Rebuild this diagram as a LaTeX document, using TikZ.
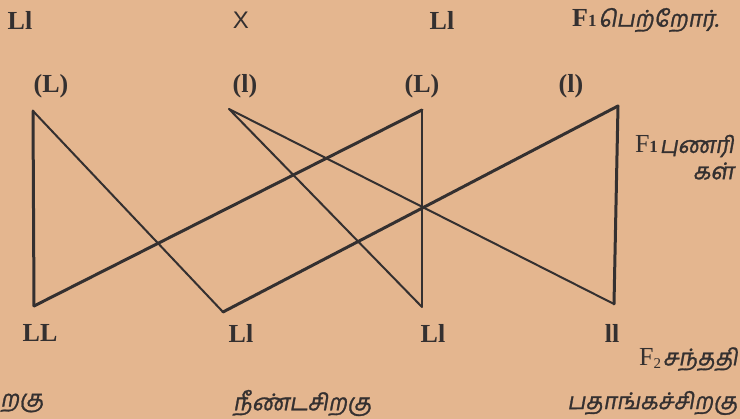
\documentclass[tikz,border=0pt]{standalone}
\usepackage{fontspec}
\setmainfont{Liberation Serif}
\newfontfamily\tamilfont[Script=Tamil,FakeSlant=0.18,FakeBold=1.2]{Hind Madurai}
\newfontfamily\crossfont{Liberation Sans}
\definecolor{paper}{RGB}{228,182,143}
\definecolor{ink}{RGB}{52,48,48}
\tikzset{
  lab/.style={font=\fontsize{26}{28}\selectfont\bfseries, text=ink, inner sep=0pt},
  tam/.style={font=\tamilfont\fontsize{23}{25}\selectfont, text=ink, inner sep=0pt},
  thickline/.style={draw=ink, line width=3pt, line cap=round, line join=round},
  thinline/.style={draw=ink, line width=2pt, line cap=round, line join=round},
}
\begin{document}
\begin{tikzpicture}[x=1pt,y=-1pt]
\fill[paper] (0,0) rectangle (740,419);
\useasboundingbox (0,0) rectangle (740,419);
% top row
\node[lab] (p1) at (20,20) {Ll};
\node[font=\crossfont\fontsize{24}{26}\selectfont, text=ink, inner sep=0pt] (cross) at (241,20) {X};
\node[lab] (p2) at (442,20) {Ll};
\node[anchor=west, inner sep=0pt, text=ink] (f1p) at (572,20) {{\fontsize{26}{28}\selectfont\bfseries F}{\fontsize{17}{19}\selectfont\bfseries 1}\,{\tamilfont\fontsize{23}{25}\selectfont பெற்றோர்.}};
% gamete labels
\node[lab] (g1) at (51,86) {(L)};
\node[lab] (g2) at (245,86) {(l)};
\node[lab] (g3) at (422,86) {(L)};
\node[lab] (g4) at (571,86) {(l)};
% points
\coordinate (A) at (33,111);
\coordinate (B) at (229,109);
\coordinate (C) at (422,110);
\coordinate (D) at (618,106);
\coordinate (P) at (34,306);
\coordinate (Q) at (223,312);
\coordinate (R) at (422,307);
\coordinate (S) at (614,304);
% connectors
\draw[thickline] (A) -- (P);
\draw[thinline] (A) -- (Q);
\draw[thinline] (B) -- (R);
\draw[thinline] (B) -- (S);
\draw[thickline] (C) -- (P);
\draw[thinline] (C) -- (R);
\draw[thickline] (D) -- (Q);
\draw[thickline] (D) -- (S);
% right labels
\node[anchor=east, inner sep=0pt, text=ink] (fg) at (734,146) {{\fontsize{26}{28}\selectfont F}{\fontsize{17}{19}\selectfont\bfseries 1}\,{\tamilfont\fontsize{23}{25}\selectfont புணரி}};
\node[tam, anchor=east] (fg2) at (734,171) {கள்};
% bottom labels
\node[lab] (o1) at (40,333) {LL};
\node[lab] (o2) at (241,333) {Ll};
\node[lab] (o3) at (433,333) {Ll};
\node[lab] (o4) at (612,333) {ll};
\node[anchor=east, inner sep=0pt, text=ink] (f2) at (738,359) {{\fontsize{26}{28}\selectfont F}\raisebox{-3pt}{\fontsize{15}{16}\selectfont 2}\,{\tamilfont\fontsize{23}{25}\selectfont சந்ததி}};
% bottom Tamil row
\node[tam, anchor=west] (t1) at (0,403) {றகு};
\node[tam, anchor=west] (t2) at (233,403) {நீண்டசிறகு};
\node[tam, anchor=west] (t3) at (567,403) {பதாங்கச்சிறகு};
\end{tikzpicture}
\end{document}
